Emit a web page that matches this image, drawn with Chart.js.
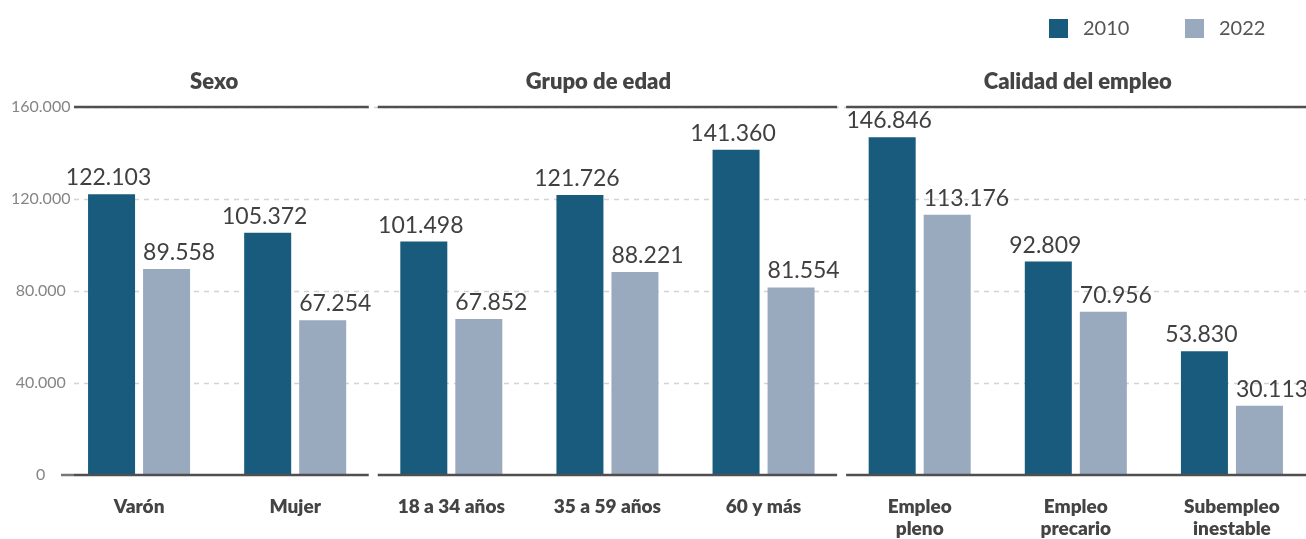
<!DOCTYPE html>
<html><head><meta charset="utf-8">
<script src="https://cdn.jsdelivr.net/npm/chart.js@4"></script>
<style>
html,body{margin:0;padding:0;background:#fff;overflow:hidden;}
#wrap{width:1310px;height:539px;position:relative;}
canvas{display:block;}
</style></head><body>
<div id="wrap"><canvas id="c" width="1310" height="539"></canvas></div>
<script>
const categories = [["Varón"],["Mujer"],["18 a 34 años"],["35 a 59 años"],["60 y más"],["Empleo","pleno"],["Empleo","precario"],["Subempleo","inestable"]];
const series2010 = [122103,105372,101498,121726,141360,146846,92809,53830];
const series2022 = [89558,67254,67852,88221,81554,113176,70956,30113];
const seriesLabels = ["2010","2022"];
const groupTitles = ["Sexo","Grupo de edad","Calidad del empleo"];
const groupSizes = [2,3,3];
const yTicks = [0,40000,80000,120000,160000];

const FONT = "Lato, 'Open Sans', sans-serif";
const DARK = "#185b7c";
const LIGHT = "#99a9be";
const LINE = "#4f4f4f";
const TEXT = "#444444";
const TITLE_SHIFT = [-3, -9, 2];

function fmt(n){ return String(n).replace(/\B(?=(\d{3})+(?!\d))/g, "."); }

const decor = {
  id: "decor",
  beforeDatasetsDraw(chart){
    const ctx = chart.ctx, y = chart.scales.y, ca = chart.chartArea;
    ctx.save();
    ctx.strokeStyle = "#d3d3d3";
    ctx.lineWidth = 1.5;
    ctx.setLineDash([5,5]);
    yTicks.forEach(v => {
      if (v === 0) return;
      const py = Math.round(y.getPixelForValue(v)) + 0.5;
      ctx.beginPath(); ctx.moveTo(74, py); ctx.lineTo(ca.right, py); ctx.stroke();
    });
    ctx.setLineDash([]);
    const p0 = y.getPixelForValue(0);
    ctx.strokeStyle = "#777";
    ctx.lineWidth = 2.5;
    ctx.beginPath(); ctx.moveTo(ca.left, p0); ctx.lineTo(74, p0); ctx.stroke();
    ctx.restore();
  },
  afterDatasetsDraw(chart){
    const ctx = chart.ctx, x = chart.scales.x, y = chart.scales.y;
    ctx.save();
    const yTop = y.getPixelForValue(yTicks[yTicks.length-1]);
    const yBot = y.getPixelForValue(0);
    let start = 0;
    groupSizes.forEach((n, gi) => {
      const first = start, last = start + n - 1;
      const leftB = first === 0 ? 74 : (x.getPixelForValue(first-1) + x.getPixelForValue(first)) / 2 + 4.5;
      const rightB = last === categories.length - 1 ? 1306 : (x.getPixelForValue(last) + x.getPixelForValue(last+1)) / 2 - 4.5;
      ctx.strokeStyle = LINE;
      ctx.lineWidth = 2.5;
      [yTop, yBot].forEach(py => {
        ctx.beginPath(); ctx.moveTo(leftB, py); ctx.lineTo(rightB, py); ctx.stroke();
      });
      const cx = (x.getPixelForValue(first) + x.getPixelForValue(last)) / 2 + TITLE_SHIFT[gi];
      ctx.fillStyle = TEXT;
      ctx.font = "800 22px " + FONT;
      ctx.textAlign = "center";
      ctx.textBaseline = "alphabetic";
      ctx.fillText(groupTitles[gi], cx, 89);
      start += n;
    });
    ctx.font = "400 23px " + FONT;
    ctx.fillStyle = "#404040";
    ctx.textBaseline = "alphabetic";
    chart.data.datasets.forEach((ds, di) => {
      const meta = chart.getDatasetMeta(di);
      meta.data.forEach((bar, i) => {
        const txt = fmt(ds.data[i]);
        if (di === 0) {
          ctx.textAlign = "center";
          ctx.fillText(txt, bar.x - 3, bar.y - 9);
        } else {
          ctx.textAlign = "left";
          ctx.fillText(txt, bar.x - bar.width / 2, bar.y - 9);
        }
      });
    });
    const legendX = [1049, 1185];
    ctx.font = "400 20px " + FONT;
    ctx.textAlign = "left";
    ctx.textBaseline = "middle";
    chart.data.datasets.forEach((ds, di) => {
      ctx.fillStyle = ds.backgroundColor;
      ctx.fillRect(legendX[di], 19, 19, 19);
      ctx.fillStyle = "#555";
      ctx.fillText(ds.label, legendX[di] + 34, 29);
    });
    ctx.restore();
  }
};

new Chart(document.getElementById("c"), {
  type: "bar",
  data: {
    labels: categories,
    datasets: [
      { label: seriesLabels[0], data: series2010, backgroundColor: DARK, borderWidth: 0,
        categoryPercentage: 0.7047, barPercentage: 0.8545 },
      { label: seriesLabels[1], data: series2022, backgroundColor: LIGHT, borderWidth: 0,
        categoryPercentage: 0.7047, barPercentage: 0.8545 }
    ]
  },
  options: {
    responsive: false,
    devicePixelRatio: 1,
    animation: false,
    layout: { padding: { top: 107, left: 0, right: 0, bottom: 0 } },
    plugins: { legend: { display: false }, tooltip: { enabled: false } },
    scales: {
      x: {
        grid: { display: false, drawTicks: false },
        border: { display: false },
        ticks: { color: TEXT, font: { family: FONT, size: 19, weight: "800", lineHeight: 1.2 }, padding: 20, maxRotation: 0, autoSkip: false },
        afterFit: s => { s.height = 64; }
      },
      y: {
        min: 0, max: 160000,
        afterBuildTicks: s => { s.ticks = yTicks.map(v => ({ value: v })); },
        grid: { display: false, drawTicks: false },
        border: { display: false },
        ticks: { color: "#858585", font: { family: FONT, size: 16 }, mirror: true, padding: -50, crossAlign: "center",
          callback: v => fmt(v) },
        afterFit: s => { s.width = 61; }
      }
    }
  },
  plugins: [decor]
});
</script>
</body></html>
